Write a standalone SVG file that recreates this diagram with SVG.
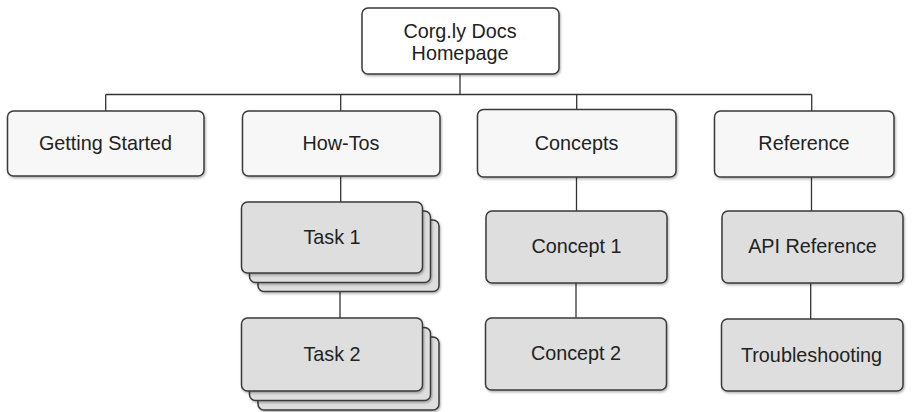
<svg xmlns="http://www.w3.org/2000/svg" width="914" height="412" viewBox="0 0 914 412">
<defs>
<filter id="sh" x="-10%" y="-10%" width="125%" height="135%">
<feDropShadow dx="1" dy="1.5" stdDeviation="1.2" flood-color="#000" flood-opacity="0.3"/>
</filter>
</defs>
<style>
.top{fill:#ffffff;stroke:#3a3a3a;stroke-width:1.5;filter:url(#sh)}
.l1{fill:#f7f7f7;stroke:#3a3a3a;stroke-width:1.5;filter:url(#sh)}
.l2{fill:#dedede;stroke:#3a3a3a;stroke-width:1.5;filter:url(#sh)}
.t{font-family:"Liberation Sans",Arial,sans-serif;font-size:19.8px;fill:#222;text-anchor:middle}
.c{fill:none;stroke:#333;stroke-width:1.3}
</style>
<g id="connectors">
<line class="c" x1="460" y1="74" x2="460" y2="94.5"/>
<line class="c" x1="105.7" y1="94.5" x2="811.7" y2="94.5"/>
<line class="c" x1="105.7" y1="94.5" x2="105.7" y2="111"/>
<line class="c" x1="340.7" y1="94.5" x2="340.7" y2="111"/>
<line class="c" x1="576.7" y1="94.5" x2="576.7" y2="109"/>
<line class="c" x1="811.7" y1="94.5" x2="811.7" y2="111"/>
<line class="c" x1="340.7" y1="176" x2="340.7" y2="202"/>
<line class="c" x1="340" y1="292" x2="340" y2="318"/>
<line class="c" x1="576.5" y1="177" x2="576.5" y2="211"/>
<line class="c" x1="576" y1="283" x2="576" y2="318"/>
<line class="c" x1="811.5" y1="177" x2="811.5" y2="211"/>
<line class="c" x1="810.7" y1="283" x2="810.7" y2="319"/>
</g>
<g id="homepage">
<rect class="top" x="362" y="8" width="197" height="66" rx="6"/>
<text class="t" x="460" y="38">Corg.ly Docs</text>
<text class="t" x="460" y="60">Homepage</text>
</g>
<g id="getting-started">
<rect class="l1" x="7.5" y="111" width="196.5" height="65" rx="6"/>
<text class="t" x="105.5" y="150">Getting Started</text>
</g>
<g id="how-tos">
<rect class="l1" x="242.5" y="111" width="197.5" height="65" rx="6"/>
<text class="t" x="341" y="150">How-Tos</text>
</g>
<g id="concepts">
<rect class="l1" x="477.5" y="109.5" width="198.5" height="67.5" rx="6"/>
<text class="t" x="576.5" y="150">Concepts</text>
</g>
<g id="reference">
<rect class="l1" x="714.5" y="111" width="179.5" height="66" rx="6"/>
<text class="t" x="804" y="150">Reference</text>
</g>
<g id="task-1">
<rect class="l2" x="258" y="220" width="181" height="71.5" rx="6"/>
<rect class="l2" x="249.5" y="211" width="181" height="71.5" rx="6"/>
<rect class="l2" x="241.5" y="202" width="181" height="71" rx="6"/>
<text class="t" x="332" y="244">Task 1</text>
</g>
<g id="task-2">
<rect class="l2" x="258" y="337" width="181" height="73" rx="6"/>
<rect class="l2" x="249.5" y="327.5" width="181" height="73" rx="6"/>
<rect class="l2" x="241.5" y="318" width="181" height="73" rx="6"/>
<text class="t" x="332" y="361">Task 2</text>
</g>
<g id="concept-1">
<rect class="l2" x="486" y="211" width="181" height="72" rx="6"/>
<text class="t" x="576.5" y="253">Concept 1</text>
</g>
<g id="concept-2">
<rect class="l2" x="485.5" y="318" width="181" height="72" rx="6"/>
<text class="t" x="576" y="360">Concept 2</text>
</g>
<g id="api-reference">
<rect class="l2" x="722" y="211" width="181" height="72" rx="6"/>
<text class="t" x="812.5" y="253">API Reference</text>
</g>
<g id="troubleshooting">
<rect class="l2" x="721.5" y="319" width="181.5" height="72" rx="6"/>
<text class="t" x="811.5" y="362">Troubleshooting</text>
</g>
</svg>
